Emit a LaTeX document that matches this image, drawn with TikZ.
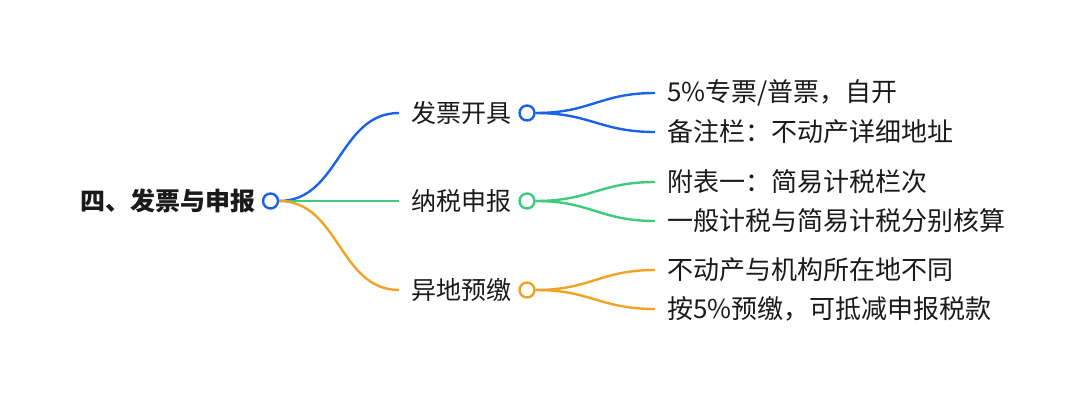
\documentclass[tikz,border=0pt]{standalone}
\usepackage{fontspec}
\newfontfamily\cjk{Noto Sans CJK SC}
\definecolor{cblue}{HTML}{1A63E6}
\definecolor{cgreen}{HTML}{3DCB7E}
\definecolor{corange}{HTML}{F2A324}
\definecolor{ctext}{HTML}{1A1A1A}
\tikzset{
  txt/.style={anchor=west, inner xsep=12pt, inner ysep=0pt, text=ctext, font=\cjk\fontsize{25}{30}\selectfont},
  leaftxt/.style={txt, font=\cjk\fontsize{26}{31}\selectfont},
  roottxt/.style={anchor=east, inner xsep=0pt, inner ysep=0pt, text=ctext, font=\cjk\bfseries\fontsize{25}{30}\selectfont},
  knob/.style={circle, draw=#1, line width=2.4pt, fill=white, inner sep=0pt, minimum size=15pt},
  link/.style={draw=#1, line width=2.4pt},
}
\begin{document}
\begin{tikzpicture}[x=1pt, y=-1pt]
\useasboundingbox (0,0) rectangle (1080,402);
% root
\node[roottxt] (root) at (256,201) {四、发票与申报};
% level 2
\node[txt] (a) at (399,113) {发票开具};
\node[txt] (b) at (399,201) {纳税申报};
\node[txt] (c) at (399,290) {异地预缴};
% leaves
\node[leaftxt] (a1) at (655,93) {5\%专票/普票，自开};
\node[leaftxt] (a2) at (655,132) {备注栏：不动产详细地址};
\node[leaftxt] (b1) at (655,182) {附表一：简易计税栏次};
\node[leaftxt] (b2) at (655,221) {一般计税与简易计税分别核算};
\node[leaftxt] (c1) at (655,270) {不动产与机构所在地不同};
\node[leaftxt] (c2) at (655,309) {按5\%预缴，可抵减申报税款};
% knobs (positions)
\node[knob=cblue] (rk) at (270.5,201) {};
\node[knob=cblue] (ak) at (527,113) {};
\node[knob=cgreen] (bk) at (527,201) {};
\node[knob=corange] (ck) at (527,290) {};
% connectors root -> level 2
\begin{scope}[on background layer/.try]
\end{scope}
\path[link=cblue] (rk.east) .. controls +(60,0) and +(-60,0) .. (a.west);
\path[link=cgreen] (rk.east) -- (b.west);
\path[link=corange] (rk.east) .. controls +(60,0) and +(-60,0) .. (c.west);
% connectors level 2 -> leaves
\path[link=cblue] (ak.east) .. controls +(55,0) and +(-55,0) .. (a1.west);
\path[link=cblue] (ak.east) .. controls +(55,0) and +(-55,0) .. (a2.west);
\path[link=cgreen] (bk.east) .. controls +(55,0) and +(-55,0) .. (b1.west);
\path[link=cgreen] (bk.east) .. controls +(55,0) and +(-55,0) .. (b2.west);
\path[link=corange] (ck.east) .. controls +(55,0) and +(-55,0) .. (c1.west);
\path[link=corange] (ck.east) .. controls +(55,0) and +(-55,0) .. (c2.west);
\end{tikzpicture}
\end{document}
